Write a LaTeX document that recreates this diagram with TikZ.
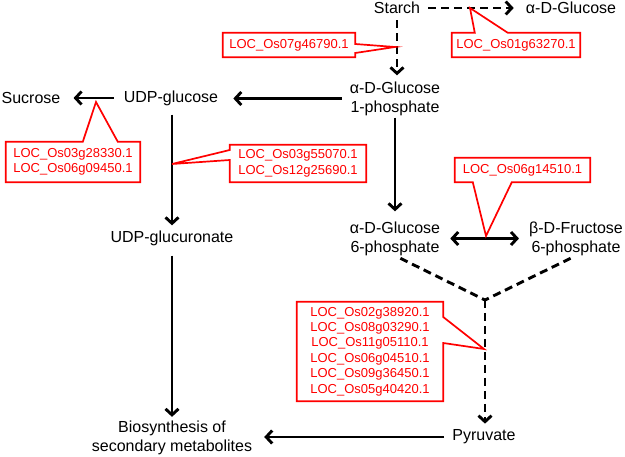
\documentclass[tikz,border=0pt]{standalone}
\usepackage{fontspec}
\setmainfont{Liberation Sans}
\usetikzlibrary{arrows.meta}
\tikzset{
  lbl/.style={inner sep=0pt, font=\fontsize{16}{19}\selectfont, align=center},
  tip/.style={Straight Barb[length=6pt,width=13pt]},
  arr/.style={line width=2.9pt, -{Straight Barb[length=6pt,width=13pt]}},
  dsh/.style={dash pattern=on 8pt off 5pt},
  cbox/.style={inner sep=0pt, font=\fontsize{13}{15.4}\selectfont, text=red, align=center},
  cline/.style={draw=red, line width=1.7pt, line join=miter},
}
\begin{document}
\begin{tikzpicture}[x=1pt,y=-1pt]
\useasboundingbox (0,0) rectangle (625,457);
% metabolites
\node[lbl] (starch) at (397,8) {Starch};
\node[lbl] (aglc) at (571,8) {α-D-Glucose};
\node[lbl] (g1p) at (395,98.5) {α-D-Glucose\\1-phosphate};
\node[lbl] (udpg) at (171,98) {UDP-glucose};
\node[lbl] (suc) at (31,98) {Sucrose};
\node[lbl] (udpga) at (172,238) {UDP-glucuronate};
\node[lbl] (g6p) at (395,238.5) {α-D-Glucose\\6-phosphate};
\node[lbl] (f6p) at (576,238.5) {β-D-Fructose\\6-phosphate};
\node[lbl] (pyr) at (484,437) {Pyruvate};
\node[lbl] (bio) at (172,438) {Biosynthesis of\\secondary metabolites};
\coordinate (jn) at (485,300);
% connectors
\draw[arr,dsh,shorten <=8pt,shorten >=12pt] (starch.east) -- (aglc.west |- starch.east);
\draw[arr,dsh,shorten <=6pt,shorten >=6pt] (starch.south) -- (starch.south |- g1p.north);
\draw[arr,shorten <=8pt,shorten >=15pt] (g1p.west) -- (udpg.east |- g1p.west);
\draw[arr,shorten <=10pt,shorten >=13pt] (udpg.west) -- (suc.east);
\draw[arr,shorten <=9pt,shorten >=5pt] (udpga.north |- udpg.south) -- (udpga.north);
\draw[arr,shorten <=10pt,shorten >=4pt] (udpga.south) -- (bio.north);
\draw[arr,shorten <=2pt,shorten >=10pt] (g1p.south) -- (g6p.north);
\draw[line width=2.9pt,{Straight Barb[length=6pt,width=13pt]}-{Straight Barb[length=6pt,width=13pt]},shorten <=10pt,shorten >=10pt] (g6p.east) -- (f6p.west);
\draw[line width=2.9pt,dsh,shorten <=6pt] (g6p.south) -- (jn);
\draw[line width=2.9pt,dsh,shorten <=6pt] (f6p.south) -- (jn);
\draw[arr,dsh,shorten >=6pt] (jn) -- (jn |- pyr.north);
\draw[arr,shorten <=8pt,shorten >=12pt] (pyr.west) -- (bio.east |- pyr.west);
% callouts
\node[cbox, minimum width=132pt, minimum height=24pt] (c1) at (289,45) {LOC\_Os07g46790.1};
\coordinate (t1) at (395,47);
\draw[cline] (c1.north west) -- (c1.north east) -- ([yshift=1pt]c1.east) -- (t1) -- ([yshift=-8pt]c1.east) -- (c1.south east) -- (c1.south west) -- cycle;
\node[cbox, minimum width=128pt, minimum height=24pt] (c2) at (516,45) {LOC\_Os01g63270.1};
\coordinate (t2) at (470,8);
\draw[cline] (c2.north west) -- ([xshift=23pt]c2.north west) -- (t2) -- ([xshift=56pt]c2.north west) -- (c2.north east) -- (c2.south east) -- (c2.south west) -- cycle;
\node[cbox, minimum width=134pt, minimum height=40pt] (c3) at (73,162) {LOC\_Os03g28330.1\\LOC\_Os06g09450.1};
\coordinate (t3) at (96,102);
\draw[cline] (c3.north west) -- ([xshift=77pt]c3.north west) -- (t3) -- ([xshift=112pt]c3.north west) -- (c3.north east) -- (c3.south east) -- (c3.south west) -- cycle;
\node[cbox, minimum width=136pt, minimum height=37pt] (c4) at (298,163.5) {LOC\_Os03g55070.1\\LOC\_Os12g25690.1};
\coordinate (t4) at (172,164);
\draw[cline] (c4.north west) -- (c4.north east) -- (c4.south east) -- (c4.south west) -- ([yshift=3.5pt]c4.west) -- (t4) -- ([yshift=13.5pt]c4.west) -- cycle;
\node[cbox, minimum width=135pt, minimum height=24pt] (c5) at (522.5,170) {LOC\_Os06g14510.1};
\coordinate (t5) at (486,236);
\draw[cline] (c5.north west) -- (c5.north east) -- (c5.south east) -- ([xshift=57pt]c5.south west) -- (t5) -- ([xshift=18pt]c5.south west) -- (c5.south west) -- cycle;
\node[cbox, minimum width=146pt, minimum height=99pt] (c6) at (370,351.5) {LOC\_Os02g38920.1\\LOC\_Os08g03290.1\\LOC\_Os11g05110.1\\LOC\_Os06g04510.1\\LOC\_Os09g36450.1\\LOC\_Os05g40420.1};
\coordinate (t6) at (484,349);
\draw[cline] (c6.north west) -- (c6.north east) -- ([yshift=34.5pt]c6.east) -- (t6) -- ([yshift=8.5pt]c6.east) -- (c6.south east) -- (c6.south west) -- cycle;
\end{tikzpicture}
\end{document}
